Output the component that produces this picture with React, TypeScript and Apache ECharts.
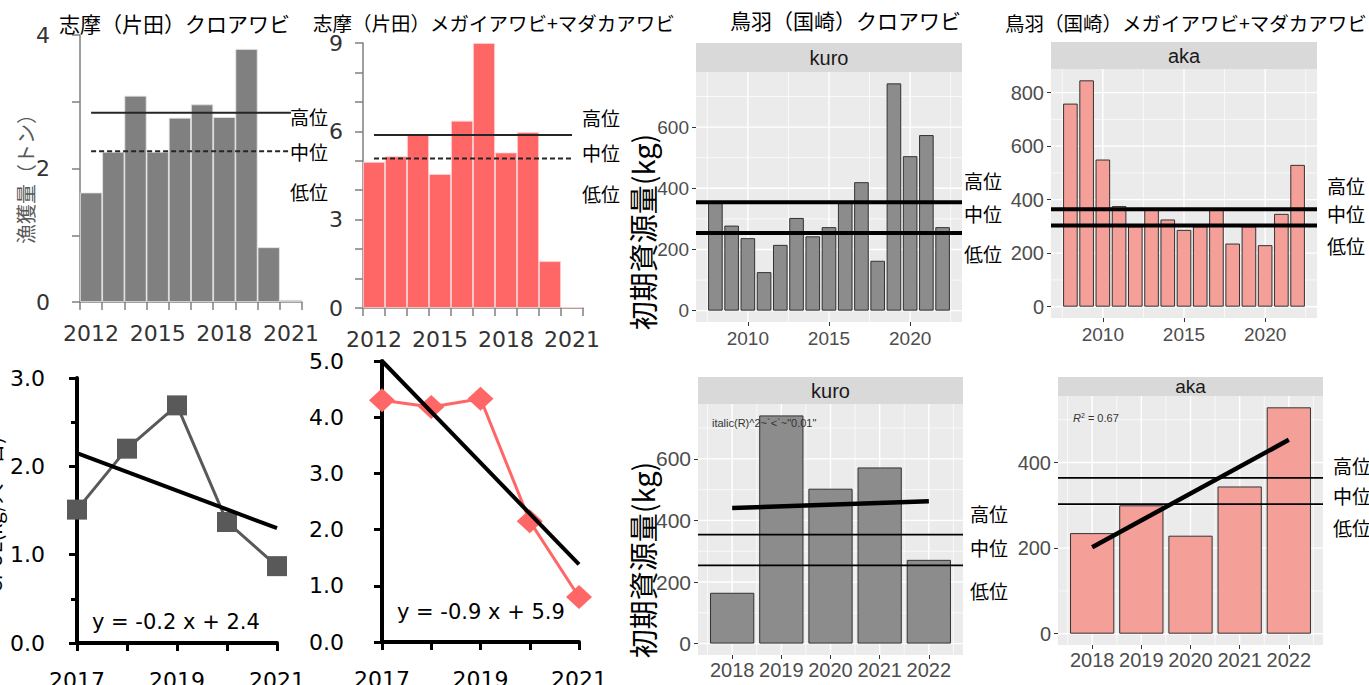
import React, { useEffect, useRef } from 'react';
import * as echarts from 'echarts';

// ---------------- data ----------------
const shimaYears = ['2012', '2013', '2014', '2015', '2016', '2017', '2018', '2019', '2020', '2021'];
const shimaKuroCatch = [1.64, 2.25, 3.09, 2.25, 2.76, 2.96, 2.77, 3.79, 0.82, 0.03];
const shimaKuroLevels = [2.835, 2.26];
const shimaAkaCatch = [4.96, 5.15, 5.89, 4.55, 6.36, 9.0, 5.28, 5.97, 1.59, 0.03];
const shimaAkaLevels = [5.875, 5.08];

const tobaYears = [2008, 2009, 2010, 2011, 2012, 2013, 2014, 2015, 2016, 2017, 2018, 2019, 2020, 2021, 2022];
const tobaKuroBiomass = [354, 278, 237, 126, 215, 303, 243, 273, 352, 420, 163, 743, 505, 574, 273];
const tobaKuroLevels = [354, 254];
const tobaAkaBiomass = [759, 846, 550, 376, 300, 364, 326, 287, 300, 363, 236, 300, 230, 347, 530];
const tobaAkaLevels = [364, 303];

const cpueYears = [2017, 2018, 2019, 2020, 2021];
const shimaKuroCpue = [1.51, 2.2, 2.69, 1.37, 0.87];
const shimaKuroCpueTrend = [2.15, 1.3];
const shimaAkaCpue = [4.3, 4.18, 4.33, 2.15, 0.8];
const shimaAkaCpueTrend = [5.0, 1.38];

const recentYears = [2018, 2019, 2020, 2021, 2022];
const recentKuro = [165, 741, 503, 572, 272];
const recentKuroTrend = [440, 462];
const recentAka = [235, 300, 229, 344, 529];
const recentAkaTrend = [202, 453];

const levelLabels = ['高位', '中位', '低位'];

// ---------------- styling ----------------
const FONT_JP = '"Noto Sans CJK JP", "Noto Sans", sans-serif';
const FONT_XL = '"DejaVu Sans", Verdana, sans-serif';
const FONT_GG = '"Liberation Sans", Arial, sans-serif';

const layouts = [
  { left: 80, top: 35, width: 222, height: 267 },
  { left: 363, top: 43, width: 220, height: 265 },
  { left: 696, top: 72, width: 266, height: 250 },
  { left: 1051, top: 69, width: 266, height: 249 },
  { left: 77, top: 378, width: 200, height: 265 },
  { left: 382, top: 361, width: 197, height: 281 },
  { left: 698, top: 404, width: 265, height: 251 },
  { left: 1058, top: 396, width: 265, height: 249 },
];
const ggPanels = [2, 3, 6, 7];

function breaks(lo: number, hi: number, step: number) {
  const out: number[] = [];
  for (let v = Math.ceil(lo / step) * step; v <= hi + 1e-9; v += step) out.push(+v.toFixed(6));
  return out;
}
function minorBreaks(lo: number, hi: number, step: number) {
  return breaks(lo - step / 2, hi - step / 2, step).map((v) => +(v + step / 2).toFixed(6));
}
function ggYRange(vals: number[]) {
  const m = Math.max(...vals);
  return [-0.05 * m, 1.05 * m];
}
function ggXRange(years: number[]) {
  const lo = years[0] - 0.45;
  const hi = years[years.length - 1] + 0.45;
  const e = (hi - lo) * 0.05;
  return [lo - e, hi + e];
}
const plain = (v: number) => String(Math.round(v));

function ggAxes(gi: number, xr: number[], yr: number[], xStep: number, yStep: number, xFont: number, yFont: number, xMargin: number) {
  const xMaj = breaks(xr[0], xr[1], xStep);
  const yMaj = breaks(yr[0], yr[1], yStep);
  const x = {
    type: 'value', gridIndex: gi, min: xr[0], max: xr[1],
    axisLine: { show: false, onZero: false },
    axisTick: { show: true, customValues: xMaj, length: 4, lineStyle: { color: '#333333', width: 1 } },
    axisLabel: {
      customValues: xMaj, formatter: plain, hideOverlap: false,
      fontSize: xFont, fontFamily: FONT_GG, color: '#4D4D4D', margin: xMargin,
    },
    splitLine: { show: false },
  };
  const y = {
    type: 'value', gridIndex: gi, min: yr[0], max: yr[1],
    axisLine: { show: false, onZero: false },
    axisTick: { show: true, customValues: yMaj, length: 4, lineStyle: { color: '#333333', width: 1 } },
    axisLabel: {
      customValues: yMaj, formatter: plain, hideOverlap: false,
      fontSize: yFont, fontFamily: FONT_GG, color: '#4D4D4D', margin: 7,
    },
    splitLine: { show: false },
  };
  return { x, y };
}

function segment(gi: number, data: any[], color: string, width: number, z: number, type: any = 'solid') {
  return {
    type: 'line', xAxisIndex: gi, yAxisIndex: gi, data, symbol: 'none', silent: true, z,
    lineStyle: { color, width, type }, animation: false,
  };
}

function ggSeries(gi: number, years: number[], vals: number[], levels: number[], xr: number[], yr: number[],
  xStep: number, yStep: number, barColor: string, levelWidth: number, trend?: number[]) {
  const s: any[] = [];
  breaks(xr[0], xr[1], xStep).forEach((v) => s.push(segment(gi, [[v, yr[0]], [v, yr[1]]], '#ffffff', 1.4, 1)));
  minorBreaks(xr[0], xr[1], xStep).forEach((v) => s.push(segment(gi, [[v, yr[0]], [v, yr[1]]], '#ffffff', 0.7, 1)));
  breaks(yr[0], yr[1], yStep).forEach((v) => s.push(segment(gi, [[xr[0], v], [xr[1], v]], '#ffffff', 1.4, 1)));
  minorBreaks(yr[0], yr[1], yStep).forEach((v) => s.push(segment(gi, [[xr[0], v], [xr[1], v]], '#ffffff', 0.7, 1)));
  s.push({
    type: 'bar', xAxisIndex: gi, yAxisIndex: gi, z: 2,
    data: years.map((y, i) => [y, vals[i]]),
    barWidth: (0.9 * layouts[gi].width) / (xr[1] - xr[0]),
    itemStyle: { color: barColor, borderColor: '#333333', borderWidth: 1 },
  });
  levels.forEach((v) => s.push(segment(gi, [[xr[0], v], [xr[1], v]], '#000000', levelWidth, 3)));
  if (trend) s.push(segment(gi, [[years[0], trend[0]], [years[years.length - 1], trend[1]]], '#000000', 4.5, 4));
  return s;
}

function excelCatX(gi: number) {
  return {
    type: 'category', gridIndex: gi, data: shimaYears, boundaryGap: true,
    axisLine: { show: true, onZero: false, lineStyle: { color: '#7f7f7f', width: 1.5 } },
    axisTick: { show: true, interval: 0, length: 8, lineStyle: { color: '#7f7f7f', width: 1.5 } },
    axisLabel: { interval: 2, fontSize: 22, fontFamily: FONT_XL, color: '#333333', margin: 20 },
    splitLine: { show: false },
  };
}
function excelValY(gi: number, max: number, interval: number, minorSplit: number, margin: number) {
  return {
    type: 'value', gridIndex: gi, min: 0, max, interval,
    axisLine: { show: true, onZero: false, lineStyle: { color: '#7f7f7f', width: 1.5 } },
    axisTick: { show: true, length: 8, lineStyle: { color: '#7f7f7f', width: 1.5 } },
    minorTick: { show: true, splitNumber: minorSplit, length: 8, lineStyle: { color: '#7f7f7f', width: 1.5 } },
    axisLabel: { fontSize: 22, fontFamily: FONT_XL, color: '#333333', margin },
    splitLine: { show: false },
  };
}
function cpueX(gi: number) {
  return {
    type: 'value', gridIndex: gi, min: cpueYears[0], max: cpueYears[cpueYears.length - 1], interval: 1,
    axisLine: { show: true, onZero: false, lineStyle: { color: '#000000', width: 4 } },
    axisTick: { show: true, length: 8, lineStyle: { color: '#000000', width: 3 } },
    axisLabel: {
      formatter: (v: number) => ((v - cpueYears[0]) % 2 === 0 ? String(v) : ''),
      fontSize: 22, fontFamily: FONT_XL, color: '#000000', margin: 26,
    },
    splitLine: { show: false },
  };
}
function cpueY(gi: number, max: number, minorSplit: number, margin: number) {
  return {
    type: 'value', gridIndex: gi, min: 0, max, interval: 1,
    axisLine: { show: true, onZero: false, lineStyle: { color: '#000000', width: 4 } },
    axisTick: { show: true, length: 8, lineStyle: { color: '#000000', width: 3 } },
    minorTick: { show: minorSplit > 1, splitNumber: minorSplit, length: 6, lineStyle: { color: '#000000', width: 3 } },
    axisLabel: { formatter: (v: number) => v.toFixed(1), fontSize: 22, fontFamily: FONT_XL, color: '#000000', margin },
    splitLine: { show: false },
  };
}

function txt(x: number, y: number, text: string, size: number, extra: any = {}, family = FONT_JP) {
  return {
    type: 'text', x, y, silent: true, z: 10,
    style: { text, fontSize: size, fontFamily: family, fill: '#000000', align: 'left', verticalAlign: 'middle', ...extra },
  };
}
function vtxt(x: number, y: number, text: string, size: number, fill: string) {
  return {
    type: 'text', x, y, rotation: Math.PI / 2, silent: true, z: 10,
    style: { text, fontSize: size, fontFamily: FONT_JP, fill, align: 'center', verticalAlign: 'middle' },
  };
}
function strip(gi: number, h: number, label: string, size: number) {
  const g = layouts[gi];
  return [
    { type: 'rect', silent: true, z: 5, shape: { x: g.left, y: g.top - h, width: g.width, height: h }, style: { fill: '#D9D9D9' } },
    txt(g.left + g.width / 2, g.top - h / 2, label, size, { align: 'center', fill: '#1A1A1A' }, FONT_GG),
  ];
}
function levelText(x: number, ys: number[]) {
  return ys.map((y, i) => txt(x, y, levelLabels[i], 19));
}

export default function App() {
  const ref = useRef<HTMLDivElement>(null);
  useEffect(() => {
    if (!ref.current) return;
    const chart = echarts.init(ref.current, undefined, { renderer: 'svg' });

    const r3x = ggXRange(tobaYears), r3y = ggYRange(tobaKuroBiomass);
    const r4x = ggXRange(tobaYears), r4y = ggYRange(tobaAkaBiomass);
    const r7x = ggXRange(recentYears), r7y = ggYRange(recentKuro);
    const r8x = ggXRange(recentYears), r8y = ggYRange(recentAka);
    const a3 = ggAxes(2, r3x, r3y, 5, 200, 19, 19, 7);
    const a4 = ggAxes(3, r4x, r4y, 5, 200, 19, 20, 7);
    const a7 = ggAxes(6, r7x, r7y, 1, 200, 20, 21, 5);
    const a8 = ggAxes(7, r8x, r8y, 1, 200, 20, 20, 5);

    const series: any[] = [
      // panel 1
      {
        type: 'bar', xAxisIndex: 0, yAxisIndex: 0, data: shimaKuroCatch, barCategoryGap: '0%', z: 2,
        itemStyle: { color: '#808080', borderColor: '#e3e3e3', borderWidth: 0.8 },
      },
      segment(0, [[shimaYears[0], shimaKuroLevels[0]], [shimaYears[9], shimaKuroLevels[0]]], '#262626', 2, 3),
      segment(0, [[shimaYears[0], shimaKuroLevels[1]], [shimaYears[9], shimaKuroLevels[1]]], '#262626', 2, 3, [5, 3]),
      // panel 2
      {
        type: 'bar', xAxisIndex: 1, yAxisIndex: 1, data: shimaAkaCatch, barCategoryGap: '0%', z: 2,
        itemStyle: { color: '#FF6666', borderColor: '#ffd6d6', borderWidth: 0.8 },
      },
      segment(1, [[shimaYears[0], shimaAkaLevels[0]], [shimaYears[9], shimaAkaLevels[0]]], '#262626', 2, 3),
      segment(1, [[shimaYears[0], shimaAkaLevels[1]], [shimaYears[9], shimaAkaLevels[1]]], '#262626', 2, 3, [5, 3]),
      // panels 3, 4, 7, 8
      ...ggSeries(2, tobaYears, tobaKuroBiomass, tobaKuroLevels, r3x, r3y, 5, 200, '#8C8C8C', 4),
      ...ggSeries(3, tobaYears, tobaAkaBiomass, tobaAkaLevels, r4x, r4y, 5, 200, '#F4A099', 4),
      ...ggSeries(6, recentYears, recentKuro, tobaKuroLevels, r7x, r7y, 1, 200, '#8C8C8C', 1.8, recentKuroTrend),
      ...ggSeries(7, recentYears, recentAka, tobaAkaLevels, r8x, r8y, 1, 200, '#F4A099', 1.8, recentAkaTrend),
      // panel 5
      {
        type: 'line', xAxisIndex: 4, yAxisIndex: 4, z: 3,
        data: cpueYears.map((y, i) => [y, shimaKuroCpue[i]]),
        symbol: 'rect', symbolSize: 20, itemStyle: { color: '#595959' }, lineStyle: { color: '#595959', width: 3 },
      },
      segment(4, [[cpueYears[0], shimaKuroCpueTrend[0]], [cpueYears[4], shimaKuroCpueTrend[1]]], '#000000', 4, 4),
      // panel 6
      {
        type: 'line', xAxisIndex: 5, yAxisIndex: 5, z: 3,
        data: cpueYears.map((y, i) => [y, shimaAkaCpue[i]]),
        symbol: 'diamond', symbolSize: [26, 24], itemStyle: { color: '#FF6666' }, lineStyle: { color: '#FF6666', width: 3 },
      },
      segment(5, [[cpueYears[0], shimaAkaCpueTrend[0]], [cpueYears[4], shimaAkaCpueTrend[1]]], '#000000', 4, 4),
    ];

    const graphics: any[] = [
      txt(59, 23, '志摩（片田）クロアワビ', 21),
      txt(313, 22, '志摩（片田）メガイアワビ+マダカアワビ', 19.5),
      txt(730, 20, '鳥羽（国崎）クロアワビ', 21),
      txt(1005, 22, '鳥羽（国崎）メガイアワビ+マダカアワビ', 19.5),
      vtxt(25, 174, '漁獲量（トン）', 20, '#595959'),
      vtxt(642, 232, '初期資源量(kg)', 29, '#000000'),
      vtxt(642, 560, '初期資源量(kg)', 29, '#000000'),
      vtxt(-7, 515, 'CPUE(kg/人・日)', 20, '#000000'),
      ...levelText(290, [116, 151, 191]),
      ...levelText(582, [117, 152, 193]),
      ...levelText(964, [180, 213, 253]),
      ...levelText(1327, [185, 213, 245]),
      ...levelText(970, [513, 547, 590]),
      ...levelText(1333, [465, 495, 527]),
      ...strip(2, 29, 'kuro', 20),
      ...strip(3, 27, 'aka', 20),
      ...strip(6, 27, 'kuro', 20),
      ...strip(7, 19, 'aka', 19),
      txt(92, 622, 'y = -0.2 x + 2.4', 21, {}, FONT_XL),
      txt(397, 612, 'y = -0.9 x + 5.9', 21, {}, FONT_XL),
      txt(712, 423, 'italic(R)^2~`<`~"0.01"', 11, { fill: '#333333' }, FONT_GG),
      {
        type: 'text', x: 1073, y: 418, silent: true, z: 10,
        style: {
          text: '{i|R}{s|2}{n| = 0.67}', fontFamily: FONT_GG, fontSize: 11, fill: '#333333', verticalAlign: 'middle',
          rich: {
            i: { fontStyle: 'italic', fontSize: 11, fontFamily: FONT_GG, fill: '#333333' },
            s: { fontSize: 7, fontFamily: FONT_GG, fill: '#333333', verticalAlign: 'top', padding: [0, 0, 6, 0] },
            n: { fontSize: 11, fontFamily: FONT_GG, fill: '#333333' },
          },
        },
      },
    ];

    const option: any = {
      animation: false,
      backgroundColor: '#ffffff',
      grid: layouts.map((g, i) => ({
        ...g, containLabel: false, outerBoundsMode: 'none',
        show: ggPanels.includes(i), backgroundColor: '#EBEBEB', borderWidth: 0,
      })),
      xAxis: [excelCatX(0), excelCatX(1), a3.x, a4.x, cpueX(4), cpueX(5), a7.x, a8.x],
      yAxis: [
        excelValY(0, 4, 2, 2, 30), excelValY(1, 9, 3, 3, 20), a3.y, a4.y,
        cpueY(4, 3, 2, 32), cpueY(5, 5, 1, 38), a7.y, a8.y,
      ],
      series,
      graphic: { elements: graphics },
    };
    chart.setOption(option);
    return () => chart.dispose();
  }, []);

  return (
    <div
      ref={ref}
      style={{ position: 'fixed', left: 0, top: 0, width: 1369, height: 685, background: '#ffffff' }}
    />
  );
}
